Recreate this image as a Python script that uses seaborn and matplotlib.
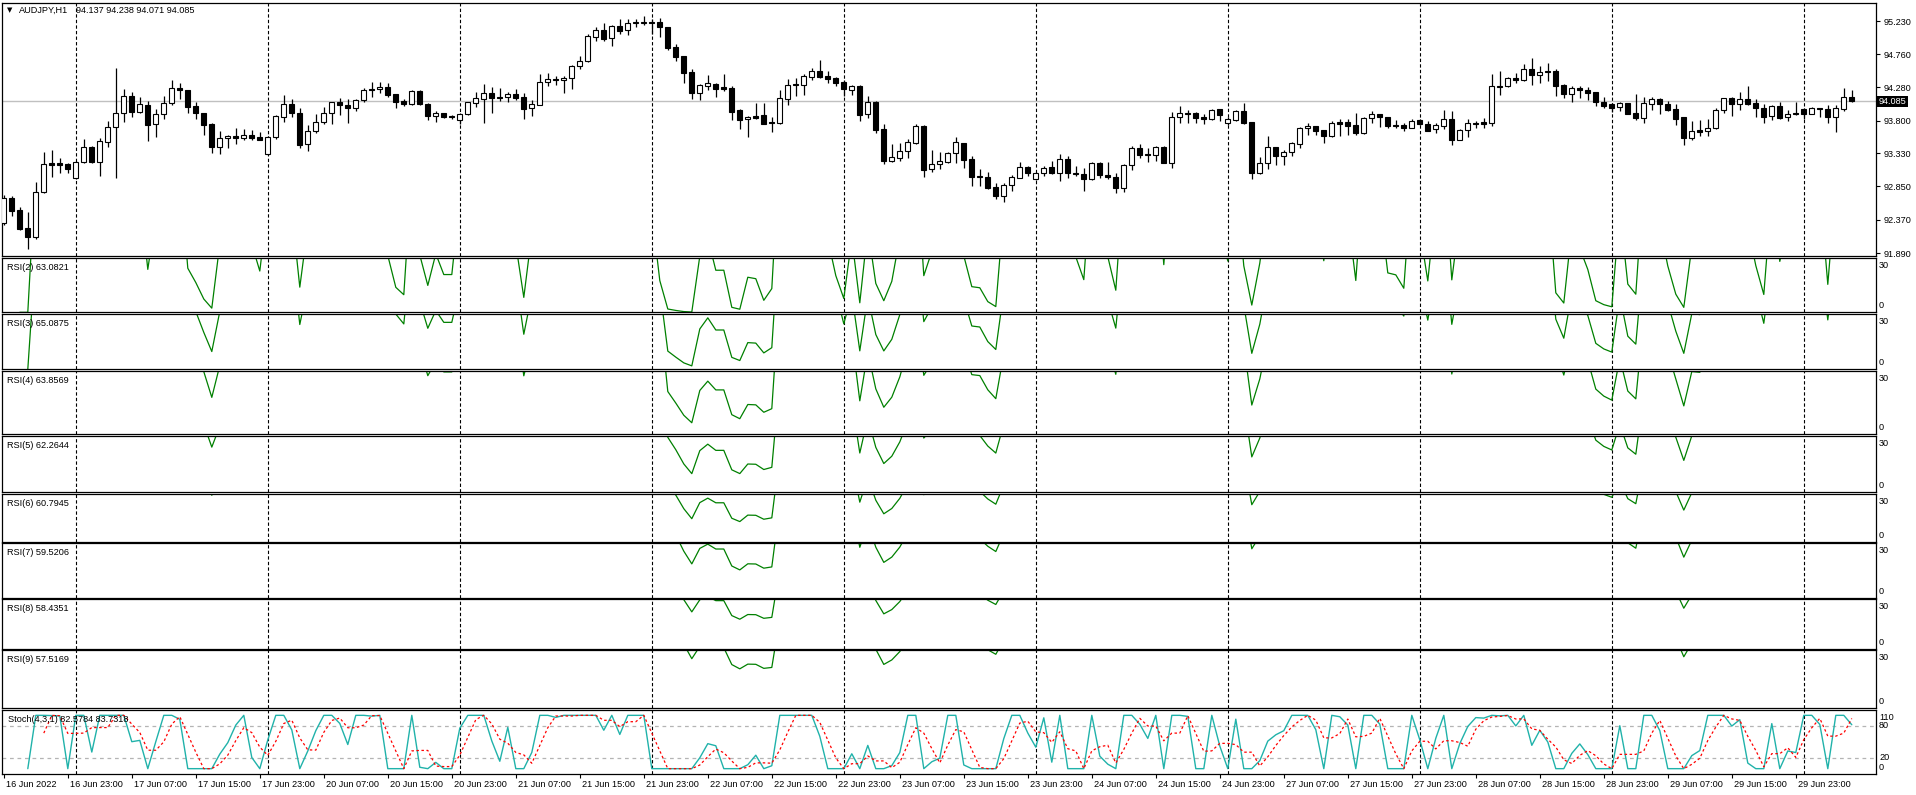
import numpy as np
import pandas as pd
import matplotlib
matplotlib.use("Agg")
import matplotlib.pyplot as plt
import seaborn as sns

# ---- data (AUDJPY H1, 16 Jun 15:00 .. 30 Jun 06:00) ----
symbol = "AUDJPY,H1"
opens = [
    92.329, 92.680, 92.511, 92.247, 92.117, 92.776, 93.184, 93.184, 93.174, 92.968,
    93.208, 93.415, 93.208, 93.497, 93.703, 93.905, 94.150, 93.929, 94.020, 93.746,
    93.890, 94.049, 94.270, 94.241, 94.006, 93.910, 93.751, 93.415, 93.545, 93.578,
    93.545, 93.588, 93.564, 93.314, 93.559, 93.847, 94.035, 93.910, 93.458, 93.646,
    93.775, 93.905, 94.064, 94.020, 93.977, 94.092, 94.256, 94.251, 94.280, 94.179,
    94.078, 94.035, 94.227, 94.044, 93.862, 93.910, 93.867, 93.804, 93.891, 94.059,
    94.116, 94.193, 94.140, 94.136, 94.179, 94.136, 93.977, 94.030, 94.352, 94.400,
    94.381, 94.410, 94.583, 94.655, 95.001, 95.102, 94.986, 95.164, 95.102, 95.207,
    95.212, 95.217, 95.217, 95.145, 94.857, 94.732, 94.501, 94.203, 94.304, 94.328,
    94.280, 94.270, 93.948, 93.818, 93.862, 93.876, 93.775, 93.761, 94.116, 94.323,
    94.309, 94.424, 94.515, 94.443, 94.414, 94.357, 94.237, 94.299, 93.891, 94.068,
    93.674, 93.222, 93.266, 93.357, 93.482, 93.722, 93.098, 93.170, 93.208, 93.328,
    93.473, 93.242, 93.001, 92.982, 92.838, 92.718, 92.867, 92.978, 93.126, 92.963,
    93.050, 93.126, 93.050, 93.242, 93.045, 93.026, 92.963, 93.189, 93.016, 92.982,
    92.833, 93.155, 93.405, 93.318, 93.299, 93.420, 93.194, 93.847, 93.910, 93.910,
    93.852, 93.823, 93.963, 93.761, 93.804, 93.939, 93.775, 93.050, 93.184, 93.420,
    93.285, 93.343, 93.458, 93.689, 93.718, 93.660, 93.574, 93.775, 93.780, 93.737,
    93.626, 93.838, 93.891, 93.852, 93.737, 93.737, 93.698, 93.804, 93.746, 93.674,
    93.722, 93.823, 93.525, 93.660, 93.770, 93.780, 93.766, 94.299, 94.294, 94.410,
    94.390, 94.539, 94.453, 94.515, 94.515, 94.309, 94.179, 94.270, 94.241, 94.208,
    94.064, 94.035, 94.001, 94.049, 93.905, 93.843, 94.035, 94.112, 94.035, 93.967,
    93.847, 93.545, 93.665, 93.646, 93.689, 93.948, 94.121, 94.035, 94.107, 94.054,
    93.977, 93.862, 94.015, 93.847, 93.915, 93.963, 93.900, 93.977, 93.963, 93.847,
    93.972, 94.137,
]
highs = [
    92.728, 92.714, 92.549, 92.478, 92.915, 93.343, 93.371, 93.256, 93.194, 93.222,
    93.530, 93.434, 93.545, 93.795, 94.554, 94.256, 94.212, 94.145, 94.083, 93.972,
    94.150, 94.386, 94.347, 94.241, 94.073, 93.915, 93.770, 93.646, 93.593, 93.694,
    93.675, 93.660, 93.641, 93.574, 93.881, 94.169, 94.112, 93.982, 93.737, 93.891,
    93.991, 94.073, 94.121, 94.112, 94.112, 94.275, 94.357, 94.362, 94.342, 94.189,
    94.116, 94.237, 94.246, 94.054, 93.939, 93.915, 93.881, 93.905, 94.073, 94.208,
    94.328, 94.280, 94.265, 94.208, 94.251, 94.193, 94.097, 94.472, 94.486, 94.443,
    94.443, 94.597, 94.727, 95.049, 95.150, 95.207, 95.183, 95.260, 95.260, 95.265,
    95.308, 95.260, 95.275, 95.155, 94.900, 94.732, 94.539, 94.328, 94.458, 94.347,
    94.472, 94.294, 93.972, 93.862, 94.049, 94.049, 93.857, 94.241, 94.400, 94.419,
    94.467, 94.558, 94.669, 94.510, 94.434, 94.381, 94.314, 94.309, 94.150, 94.083,
    93.746, 93.458, 93.473, 93.535, 93.746, 93.742, 93.376, 93.352, 93.352, 93.569,
    93.482, 93.285, 93.102, 93.054, 92.896, 92.900, 93.016, 93.198, 93.146, 93.054,
    93.141, 93.213, 93.323, 93.285, 93.141, 93.112, 93.198, 93.198, 93.198, 93.040,
    93.179, 93.439, 93.463, 93.410, 93.439, 93.439, 93.919, 94.006, 93.953, 93.929,
    93.891, 93.967, 93.972, 93.847, 93.953, 94.054, 93.785, 93.280, 93.578, 93.424,
    93.371, 93.497, 93.708, 93.770, 93.722, 93.665, 93.790, 93.823, 93.823, 93.905,
    93.847, 93.939, 93.900, 93.857, 93.814, 93.766, 93.823, 93.823, 93.794, 93.761,
    93.953, 93.939, 93.684, 93.823, 93.794, 93.838, 94.472, 94.515, 94.434, 94.482,
    94.616, 94.698, 94.587, 94.626, 94.539, 94.328, 94.299, 94.299, 94.280, 94.212,
    94.136, 94.054, 94.068, 94.059, 94.184, 94.136, 94.136, 94.121, 94.078, 94.040,
    93.857, 93.794, 93.809, 93.823, 93.977, 94.131, 94.136, 94.208, 94.294, 94.112,
    94.035, 94.030, 94.068, 93.948, 94.068, 93.977, 94.001, 93.987, 94.025, 94.025,
    94.270, 94.238,
]
lows = [
    92.295, 92.425, 92.223, 91.954, 92.098, 92.761, 92.992, 93.040, 93.050, 92.954,
    93.194, 93.194, 93.006, 93.420, 92.978, 93.785, 93.857, 93.915, 93.511, 93.559,
    93.818, 94.020, 94.112, 93.905, 93.828, 93.598, 93.338, 93.323, 93.400, 93.468,
    93.516, 93.516, 93.516, 93.299, 93.540, 93.780, 93.857, 93.400, 93.367, 93.626,
    93.751, 93.751, 93.881, 93.766, 93.939, 94.073, 94.145, 94.203, 94.136, 93.982,
    94.011, 94.025, 94.030, 93.809, 93.785, 93.838, 93.823, 93.751, 93.881, 93.991,
    93.770, 93.915, 94.078, 94.064, 94.102, 93.828, 93.871, 94.020, 94.304, 94.318,
    94.203, 94.256, 94.539, 94.645, 94.953, 94.953, 94.881, 95.054, 95.030, 95.155,
    95.174, 95.044, 95.010, 94.813, 94.664, 94.347, 94.116, 94.102, 94.246, 94.140,
    94.227, 93.809, 93.684, 93.569, 93.828, 93.746, 93.641, 93.751, 94.030, 94.150,
    94.174, 94.381, 94.410, 94.347, 94.299, 94.155, 94.174, 93.799, 93.833, 93.626,
    93.179, 93.198, 93.222, 93.256, 93.468, 92.992, 93.054, 93.107, 93.189, 93.194,
    93.112, 92.862, 92.862, 92.814, 92.670, 92.631, 92.790, 92.968, 93.006, 92.944,
    93.006, 93.035, 92.934, 92.978, 93.006, 92.790, 92.939, 92.978, 92.963, 92.761,
    92.771, 93.093, 93.266, 93.208, 93.218, 93.184, 93.122, 93.766, 93.770, 93.770,
    93.756, 93.804, 93.799, 93.737, 93.795, 93.751, 92.963, 93.030, 93.107, 93.165,
    93.165, 93.295, 93.410, 93.598, 93.598, 93.482, 93.569, 93.583, 93.588, 93.593,
    93.612, 93.770, 93.708, 93.694, 93.694, 93.655, 93.689, 93.732, 93.646, 93.626,
    93.674, 93.448, 93.521, 93.569, 93.689, 93.698, 93.722, 94.174, 94.280, 94.347,
    94.371, 94.318, 94.338, 94.371, 94.155, 94.126, 94.073, 94.131, 94.097, 94.015,
    93.987, 93.924, 93.943, 93.895, 93.809, 93.766, 93.958, 93.900, 93.934, 93.742,
    93.448, 93.516, 93.583, 93.583, 93.684, 93.915, 93.871, 93.953, 94.020, 93.857,
    93.770, 93.814, 93.828, 93.799, 93.886, 93.828, 93.891, 93.857, 93.770, 93.641,
    93.939, 94.071,
]
closes = [
    92.680, 92.502, 92.237, 92.127, 92.776, 93.170, 93.165, 93.165, 93.107, 93.208,
    93.415, 93.203, 93.501, 93.703, 93.905, 94.150, 93.929, 94.035, 93.741, 93.890,
    94.049, 94.265, 94.237, 93.991, 93.905, 93.741, 93.415, 93.549, 93.574, 93.545,
    93.588, 93.554, 93.525, 93.559, 93.867, 94.035, 93.905, 93.453, 93.646, 93.775,
    93.905, 94.064, 94.020, 93.977, 94.092, 94.241, 94.237, 94.280, 94.174, 94.073,
    94.035, 94.227, 94.040, 93.862, 93.905, 93.847, 93.847, 93.891, 94.064, 94.121,
    94.193, 94.131, 94.131, 94.179, 94.131, 93.972, 94.035, 94.352, 94.395, 94.381,
    94.414, 94.583, 94.655, 95.020, 95.102, 94.977, 95.164, 95.097, 95.207, 95.217,
    95.217, 95.203, 95.155, 94.852, 94.722, 94.491, 94.203, 94.309, 94.338, 94.261,
    94.261, 93.929, 93.814, 93.847, 93.843, 93.756, 93.761, 94.121, 94.309, 94.309,
    94.438, 94.515, 94.434, 94.405, 94.347, 94.251, 94.294, 93.886, 94.064, 93.670,
    93.222, 93.270, 93.357, 93.487, 93.722, 93.088, 93.170, 93.213, 93.328, 93.487,
    93.232, 92.992, 92.982, 92.833, 92.718, 92.867, 92.982, 93.126, 93.040, 93.040,
    93.122, 93.050, 93.242, 93.040, 93.026, 92.963, 93.189, 93.016, 92.982, 92.833,
    93.160, 93.405, 93.309, 93.299, 93.420, 93.194, 93.847, 93.905, 93.891, 93.843,
    93.823, 93.948, 93.876, 93.823, 93.939, 93.766, 93.050, 93.184, 93.420, 93.285,
    93.352, 93.473, 93.694, 93.722, 93.655, 93.574, 93.761, 93.756, 93.727, 93.626,
    93.838, 93.891, 93.847, 93.727, 93.722, 93.694, 93.790, 93.746, 93.655, 93.732,
    93.823, 93.525, 93.665, 93.761, 93.751, 93.756, 94.294, 94.289, 94.410, 94.386,
    94.539, 94.453, 94.496, 94.496, 94.304, 94.179, 94.270, 94.237, 94.203, 94.064,
    94.015, 93.987, 94.049, 93.900, 93.843, 94.049, 94.112, 94.035, 93.958, 93.828,
    93.545, 93.646, 93.641, 93.694, 93.948, 94.121, 94.035, 94.107, 94.044, 93.977,
    93.857, 94.015, 93.843, 93.900, 93.895, 93.900, 93.977, 93.963, 93.847, 93.977,
    94.136, 94.085,
]

price_ticks = [95.230, 94.760, 94.280, 93.800, 93.330, 92.850, 92.370, 91.890]
last_price = 94.085
rsi_periods = [2, 3, 4, 5, 6, 7, 8, 9]
rsi_last = ["63.0821", "65.0875", "63.8569", "62.2644", "60.7945", "59.5206", "58.4351", "57.5169"]
stoch_params = (4, 3, 1)
stoch_last = ["82.5784", "83.7318"]
stoch_levels = [20, 80]

# trading hours (weekends skipped)
times = pd.DatetimeIndex(
    list(pd.date_range("2022-06-16 15:00", "2022-06-17 23:00", freq="h"))
    + list(pd.date_range("2022-06-20 00:00", "2022-06-24 23:00", freq="h"))
    + list(pd.date_range("2022-06-27 00:00", "2022-06-30 06:00", freq="h"))
)

df = pd.DataFrame({"time": times, "open": opens, "high": highs, "low": lows, "close": closes})
df["x"] = np.arange(len(df))


def rsi(close, n):
    d = close.diff()
    up = d.clip(lower=0).ewm(alpha=1 / n, adjust=False, min_periods=n).mean()
    dn = (-d.clip(upper=0)).ewm(alpha=1 / n, adjust=False, min_periods=n).mean()
    return 100 - 100 / (1 + up / dn)


# Stochastic on Close/Close
kp, dp, slow = stoch_params
ll = df["close"].rolling(kp).min()
hh = df["close"].rolling(kp).max()
df["st_main"] = 100 * (df["close"] - ll).rolling(slow).sum() / (hh - ll).rolling(slow).sum()
df["st_sig"] = df["st_main"].rolling(dp).mean()

# ---- figure ----
sns.set_theme(style="white")
plt.rcParams["font.family"] = ["Liberation Sans", "DejaVu Sans"]
FS = 6.6
W, H = 1916, 795
fig = plt.figure(figsize=(W / 100, H / 100), dpi=100)
fig.patch.set_facecolor("white")

LEFT, RIGHT = 2.3, 1875.5
XLIM = ((LEFT - 3.8) / 8, (RIGHT - 3.8) / 8)
separators = df.index[df["time"].dt.hour == 0].tolist()


def px_axes(top, bottom):
    ax = fig.add_axes([LEFT / W, 1 - bottom / H, (RIGHT - LEFT) / W, (bottom - top) / H])
    ax.set_facecolor("white")
    for s in ax.spines.values():
        s.set_color("black")
        s.set_linewidth(0.9)
    ax.set_xlim(*XLIM)
    ax.set_xticks([])
    ax.set_yticks([])
    for s in separators:
        ax.axvline(s, color="black", lw=0.8, ls=(0, (3, 2)), zorder=1)
    return ax


def ftext(x, y, s, **kw):
    kw.setdefault("fontsize", FS)
    kw.setdefault("va", "center")
    kw.setdefault("color", "black")
    fig.text(x / W, 1 - y / H, s, **kw)


# main price panel
ax = px_axes(2.7, 255.7)
ax.set_ylim(91.852, 95.500)
ax.axhline(last_price, color="#c0c0c0", lw=1.0, zorder=1)
bull = df["close"] >= df["open"]
ax.vlines(df["x"], df["low"], df["high"], color="black", lw=0.9, zorder=2)
ax.bar(df["x"], (df["close"] - df["open"]).abs().clip(lower=0.003),
       bottom=np.minimum(df["open"], df["close"]), width=0.62,
       color=np.where(bull, "white", "black"), edgecolor="black", linewidth=0.8, zorder=3)
ax.yaxis.tick_right()
ax.set_yticks(price_ticks)
ax.set_yticklabels([f"{p:.3f}" for p in price_ticks])
ax.tick_params(axis="y", right=True, left=False, length=3, width=0.8, direction="out",
               labelsize=FS, pad=3, colors="black")
ftext(1878.5, 101.5, f"{last_price:.3f}", color="white",
      bbox=dict(facecolor="black", edgecolor="none", pad=1.0))
ftext(7, 10.5, "\u25BC", family="DejaVu Sans", fontsize=5)
ftext(19, 10.7, symbol)
ftext(76, 10.7, "94.137 94.238 94.071 94.085")

# RSI panels
rsi_boxes = [(257.7, 312.3), (314.3, 369.3), (371.0, 434.3), (436.0, 492.3),
             (494.0, 541.7), (543.3, 597.7), (599.3, 648.7), (650.3, 707.8)]
for n, last, (top, bot) in zip(rsi_periods, rsi_last, rsi_boxes):
    a = px_axes(top, bot)
    sns.lineplot(x=df["x"], y=rsi(df["close"], n), ax=a, color="#008000", lw=0.9)
    a.set_ylim(0, 30)
    a.set_xlim(*XLIM)
    a.set_xlabel("")
    a.set_ylabel("")
    a.set_yticks([])
    ftext(7.3, top + 9.5, f"RSI({n}) {last}")
    ftext(1879, top + 7.5, "30")
    ftext(1879, bot - 6.5, "0")

# Stochastic panel
st_top, st_bot = 710.0, 774.0
a = px_axes(st_top, st_bot)
a.set_ylim(-10, 110)
for lv in stoch_levels:
    a.axhline(lv, color="#b4b4b4", lw=0.9, ls=(0, (3, 3)), zorder=1)
sns.lineplot(x=df["x"], y=df["st_main"], ax=a, color="#20B2AA", lw=1.0)
sns.lineplot(x=df["x"], y=df["st_sig"], ax=a, color="red", lw=0.9, linestyle=(0, (2, 2)))
a.set_xlim(*XLIM)
a.set_xlabel("")
a.set_ylabel("")
a.set_yticks([])
ftext(8, st_top + 9.5, f"Stoch({kp},{dp},{slow}) {stoch_last[0]} {stoch_last[1]}")
for lab, val in [("110", 110), ("80", 80), ("20", 20), ("0", 0)]:
    yy = st_top + (110 - val) / 120 * (st_bot - st_top)
    ftext(1879, min(max(yy, st_top + 7.5), st_bot - 6), lab)

# time axis under the last panel
ticks = df["x"][::8].tolist()
a.set_xticks(ticks)
a.set_xticklabels([])
a.tick_params(axis="x", bottom=True, length=3, width=0.8, direction="out", colors="black")
for k, i in enumerate(ticks):
    t = df["time"].iloc[i]
    lab = t.strftime("%d %b %Y") if k == 0 else t.strftime("%d %b %H:%M")
    a.annotate(lab, xy=(i, 0), xycoords=("data", "axes fraction"), xytext=(1.5, -4),
               textcoords="offset points", ha="left", va="top", fontsize=FS, color="black")

fig.savefig("out.png", dpi=100, facecolor="white")
